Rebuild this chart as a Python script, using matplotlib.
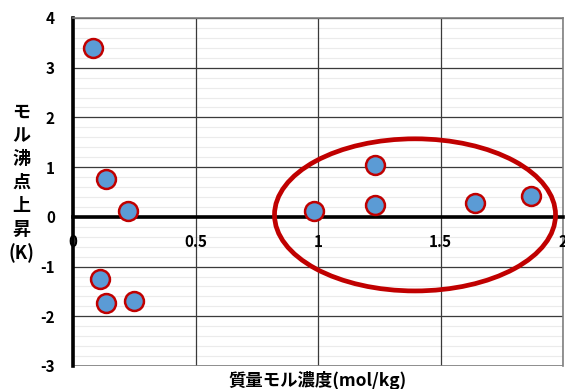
import matplotlib.pyplot as plt
from matplotlib.patches import Ellipse
import numpy as np

plt.rcParams['font.family'] = ['Noto Sans CJK JP', 'DejaVu Sans']

# molality (mol/kg) vs. boiling point elevation (K)
molality = [0.082, 0.135, 0.224, 0.110, 0.135, 0.249, 0.984, 1.233, 1.233, 1.640, 1.870]
elevation = [3.40, 0.76, 0.12, -1.25, -1.73, -1.69, 0.12, 1.05, 0.24, 0.28, 0.42]

x_ticks = [0, 0.5, 1, 1.5, 2]
x_tick_labels = ['0', '0.5', '1', '1.5', '2']
y_ticks = [-3, -2, -1, 0, 1, 2, 3, 4]

fig = plt.figure(figsize=(5.65, 3.89), dpi=100)
ax = fig.add_axes([73 / 565, 23 / 389, 490 / 565, 348 / 389])

ax.set_xlim(0, 2)
ax.set_ylim(-3, 4)

# light minor lines every 0.2 K, darker major grid
for yv in np.arange(-3, 4.001, 0.2):
    ax.axhline(yv, color='#ebebeb', lw=0.8, zorder=0)
for yv in y_ticks:
    ax.axhline(yv, color='#3a3a3a', lw=0.9, zorder=1)
for xv in x_ticks:
    ax.axvline(xv, color='#3a3a3a', lw=0.9, zorder=1)

for side in ['top', 'right']:
    ax.spines[side].set_color('#808080')
    ax.spines[side].set_linewidth(1.2)
ax.spines['left'].set_color('black')
ax.spines['left'].set_linewidth(2.6)
ax.spines['bottom'].set_position(('data', 0))
ax.spines['bottom'].set_color('black')
ax.spines['bottom'].set_linewidth(2.6)
ax.axhline(-3, color='#808080', lw=1.2, zorder=1)

ax.set_xticks(x_ticks)
ax.set_xticklabels([])
ax.set_yticks(y_ticks)
ax.set_yticklabels([str(v) for v in y_ticks], fontsize=11, fontweight='bold')
ax.tick_params(axis='both', length=0)
ax.tick_params(axis='y', pad=13)

# x tick labels sit just under the zero line, over the grid
for xv, lab in zip(x_ticks, x_tick_labels):
    ax.text(xv, -0.5, lab, ha='center', va='center', fontsize=11,
            fontweight='bold', zorder=4)

ax.scatter(molality, elevation, s=185, facecolor='#5b9bd5',
           edgecolor='#c00000', linewidth=1.8, zorder=5, clip_on=False)

ax.add_patch(Ellipse((1.396, 0.04), 1.147, 3.06, fill=False,
                     edgecolor='#c00000', lw=3.4, zorder=6))

fig.text(21 / 565, 1 - 183 / 389, 'モ\nル\n沸\n点\n上\n昇\n(K)', ha='center',
         va='center', fontsize=13, fontweight='bold', linespacing=1.3)
fig.text(318 / 565, 1 - 380 / 389, '質量モル濃度(mol/kg)', ha='center',
         va='center', fontsize=12.5, fontweight='bold')

fig.savefig('out.png', dpi=100)
